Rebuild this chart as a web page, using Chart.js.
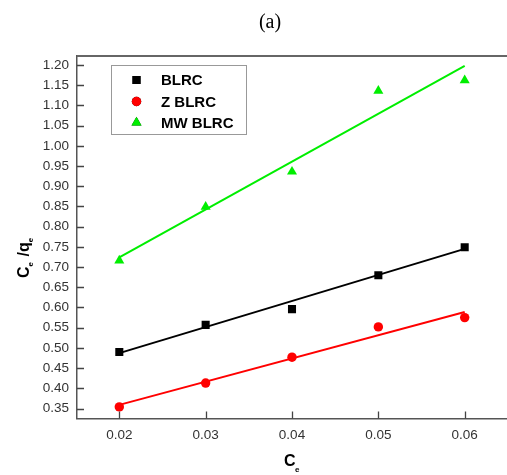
<!DOCTYPE html>
<html>
<head>
<meta charset="utf-8">
<script src="https://cdn.jsdelivr.net/npm/chart.js@4/dist/chart.umd.min.js"></script>
<style>
  html, body { margin: 0; padding: 0; background: #fff; overflow: hidden; }
  #wrap { width: 507px; height: 475px; position: relative; }
</style>
</head>
<body>
<div id="wrap"><canvas id="c" width="507" height="475"></canvas></div>
<script>
// ---- data ----
const concentrations = [0.02, 0.03, 0.04, 0.05, 0.06];
const blrc   = [0.490, 0.557, 0.596, 0.680, 0.749];
const zBlrc  = [0.354, 0.413, 0.477, 0.552, 0.575];
const mwBlrc = [0.716, 0.849, 0.936, 1.136, 1.162];
const fitX    = [0.02, 0.06];
const blrcFit = [0.487, 0.745];
const zFit    = [0.359, 0.589];
const mwFit   = [0.724, 1.198];
const xTicks = [0.02, 0.03, 0.04, 0.05, 0.06];
const yTicks = [0.35,0.40,0.45,0.50,0.55,0.60,0.65,0.70,0.75,0.80,0.85,0.90,0.95,1.00,1.05,1.10,1.15,1.20];
const seriesNames = ['BLRC', 'Z BLRC', 'MW BLRC'];
const chartTitle = '(a)';

const toPts = (xs, ys) => xs.map((x, i) => ({x: x, y: ys[i]}));

const colors = ['#000000', '#ff0000', '#00ee00'];
const styles = ['rect', 'circle', 'triangle'];
const radii = [5.7, 4.7, 5.8];

const decorPlugin = {
  id: 'decor',
  afterDraw(chart) {
    const ctx = chart.ctx;
    const ca = chart.chartArea;
    const xs = chart.scales.x, ys = chart.scales.y;
    ctx.save();
    // top frame line
    ctx.strokeStyle = '#666';
    ctx.lineWidth = 2;
    ctx.beginPath();
    ctx.moveTo(ca.left, ca.top);
    ctx.lineTo(chart.width, ca.top);
    ctx.stroke();
    // inward ticks
    ctx.strokeStyle = '#444';
    ctx.lineWidth = 1.3;
    ctx.beginPath();
    xTicks.forEach(v => {
      const px = Math.round(xs.getPixelForValue(v)) + 0.5;
      ctx.moveTo(px, ca.bottom);
      ctx.lineTo(px, ca.bottom - 7);
    });
    yTicks.forEach(v => {
      const py = Math.round(ys.getPixelForValue(v)) + 0.5;
      ctx.moveTo(ca.left, py);
      ctx.lineTo(ca.left + 7, py);
    });
    ctx.stroke();

    // title
    ctx.fillStyle = '#000';
    ctx.font = '20px "Liberation Serif", "Times New Roman", serif';
    ctx.textAlign = 'center';
    ctx.textBaseline = 'middle';
    ctx.fillText(chartTitle, 270, 23);

    // x-axis title C_e
    ctx.textAlign = 'left';
    ctx.textBaseline = 'alphabetic';
    ctx.font = 'bold 16px "Liberation Sans", Arial, sans-serif';
    ctx.fillText('C', 284, 466);
    ctx.font = 'bold 8px "Liberation Sans", Arial, sans-serif';
    ctx.fillText('e', 295, 472);

    // y-axis title C_e /q_e (rotated)
    ctx.save();
    ctx.translate(28.5, 278);
    ctx.rotate(-Math.PI / 2);
    let x = 0;
    ctx.font = 'bold 16px "Liberation Sans", Arial, sans-serif';
    ctx.fillText('C', x, 0); x += ctx.measureText('C').width;
    ctx.font = 'bold 8px "Liberation Sans", Arial, sans-serif';
    ctx.fillText('e', x, 4); x += ctx.measureText('e').width + 1;
    ctx.font = 'bold 16px "Liberation Sans", Arial, sans-serif';
    ctx.fillText(' /q', x, 0); x += ctx.measureText(' /q').width;
    ctx.font = 'bold 8px "Liberation Sans", Arial, sans-serif';
    ctx.fillText('e', x, 4);
    ctx.restore();

    // legend box
    ctx.strokeStyle = '#999';
    ctx.lineWidth = 1;
    ctx.strokeRect(111.5, 65.5, 135, 69);
    const rowY = [80, 101.5, 122.5];
    seriesNames.forEach((name, i) => {
      Chart.helpers.drawPoint(ctx, {pointStyle: styles[i], radius: radii[i], rotation: 0, borderWidth: 0},
        136.5, rowY[i]);
      ctx.fillStyle = colors[i];
      ctx.fill();
      ctx.fillStyle = '#000';
      ctx.font = 'bold 15px "Liberation Sans", Arial, sans-serif';
      ctx.textAlign = 'left';
      ctx.textBaseline = 'middle';
      ctx.fillText(name, 161, rowY[i] + 1);
    });
    ctx.restore();
  }
};

const pointSet = (label, ys, i) => ({
  label: label,
  data: toPts(concentrations, ys),
  showLine: false,
  pointStyle: styles[i],
  pointRadius: radii[i],
  pointHoverRadius: radii[i],
  pointBackgroundColor: colors[i],
  pointBorderColor: colors[i],
  pointBorderWidth: 0,
  backgroundColor: colors[i],
  borderColor: colors[i]
});
const fitSet = (label, ys, i) => ({
  label: label + ' fit',
  data: toPts(fitX, ys),
  showLine: true,
  pointRadius: 0,
  borderColor: colors[i],
  borderWidth: 2,
  fill: false
});

new Chart(document.getElementById('c'), {
  type: 'scatter',
  data: {
    datasets: [
      fitSet(seriesNames[0], blrcFit, 0),
      fitSet(seriesNames[1], zFit, 1),
      fitSet(seriesNames[2], mwFit, 2),
      pointSet(seriesNames[0], blrc, 0),
      pointSet(seriesNames[1], zBlrc, 1),
      pointSet(seriesNames[2], mwBlrc, 2)
    ]
  },
  options: {
    responsive: false,
    animation: false,
    events: [],
    layout: { autoPadding: false, padding: { top: 56, left: 0, right: 0, bottom: 0 } },
    plugins: { legend: { display: false }, tooltip: { enabled: false }, title: { display: false } },
    scales: {
      x: {
        type: 'linear',
        min: 0.0151,
        max: 0.0649,
        afterBuildTicks: s => { s.ticks = xTicks.map(v => ({value: v})); },
        afterFit: s => { s.height = 56.5; s.paddingLeft = 0; s.paddingRight = 0; },
        grid: { display: true, drawOnChartArea: false, drawTicks: false },
        border: { display: true, color: '#555', width: 1.5 },
        ticks: {
          padding: 9,
          color: '#333',
          font: { family: '"Liberation Sans", Arial, sans-serif', size: 13.5 },
          callback: v => Number(v).toFixed(2),
          maxRotation: 0
        }
      },
      y: {
        type: 'linear',
        min: 0.3253,
        max: 1.2223,
        afterBuildTicks: s => { s.ticks = yTicks.map(v => ({value: v})); },
        afterFit: s => { s.width = 77; s.paddingTop = 0; s.paddingBottom = 0; },
        grid: { display: true, drawOnChartArea: false, drawTicks: false },
        border: { display: true, color: '#555', width: 1.5 },
        ticks: {
          padding: 8,
          color: '#333',
          font: { family: '"Liberation Sans", Arial, sans-serif', size: 13.5 },
          callback: v => Number(v).toFixed(2)
        }
      }
    }
  },
  plugins: [decorPlugin]
});
</script>
</body>
</html>
